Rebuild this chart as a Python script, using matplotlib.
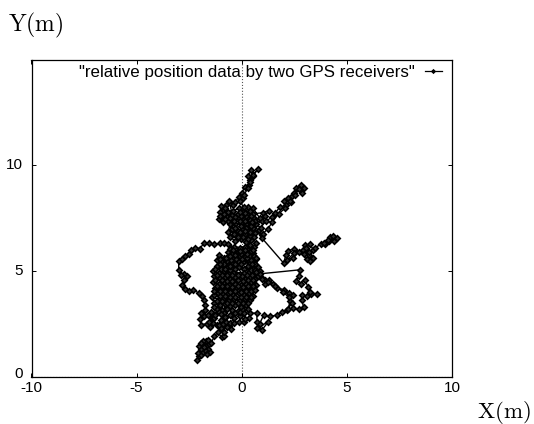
import matplotlib
matplotlib.use('Agg')
import matplotlib.pyplot as plt
from matplotlib.transforms import ScaledTranslation

plt.rcParams['font.family'] = ['Liberation Sans', 'DejaVu Sans']
plt.rcParams['mathtext.fontset'] = 'cm'
plt.rcParams['axes.unicode_minus'] = False

x_ticks = [-10, -5, 0, 5, 10]
y_ticks = [0, 5, 10, 15]
y_tick_labels = ['0', '5', '10', '']
series_label = '"relative position data by two GPS receivers"'

# relative position (x, y) in metres
tail = [(-2.15,0.8),(-2.05,0.95),(-2.1,1.1),(-1.95,1.0),(-1.85,1.15),(-1.65,1.05),(-1.5,1.15),(-1.6,1.3),(-1.75,1.25),
        (-1.95,1.3),(-2.05,1.45),(-1.9,1.55),(-1.7,1.45),(-1.55,1.55),(-1.7,1.7),(-1.85,1.7),(-1.95,1.6),(-1.8,1.4),
        (-1.6,1.75),(-1.45,1.6),(-1.3,1.9),(-1.15,2.1),(-0.95,1.85),(-0.85,1.9),(-0.85,2.1),(-1.0,2.3),(-1.2,2.45),
        (-1.35,2.55),(-1.5,2.35),(-1.65,2.5),(-1.95,2.45),(-1.97,2.7),(-1.8,2.85),(-1.95,3.0),(-1.75,3.15)]
left_loop = [(-1.75,3.4),(-1.8,3.6),(-1.9,3.8),(-2.05,3.95),(-2.3,4.1),(-2.5,4.05),(-2.7,4.15),(-2.85,4.35),(-2.75,4.55),
             (-2.6,4.75),(-2.75,4.85),(-2.9,4.8),(-3.0,5.05),(-3.0,5.45),(-2.85,5.55),(-2.7,5.7),(-2.5,5.8),(-2.4,6.0),
             (-2.2,6.1),(-2.0,6.05),(-1.8,6.3),(-1.55,6.3),(-1.3,6.25),(-1.05,6.3),(-0.85,6.3),(-0.65,6.25)]
lower_blob = [(-0.5,6.1),(-0.65,5.9),(-0.45,5.8),(-0.2,5.95),(0.05,5.85),(0.3,6.0),(0.55,5.85),(0.4,5.7),(0.15,5.65),
              (-0.1,5.7),(-0.35,5.6),(-0.6,5.7),(-0.85,5.6),(-1.1,5.75),(-1.2,5.5),(-0.95,5.4),(-0.7,5.45),(-0.45,5.35),
              (-0.2,5.45),(0.05,5.4),(0.3,5.5),(0.55,5.35),(0.7,5.55),(0.75,5.2),(0.5,5.15),(0.3,5.25),(0.1,5.1),
              (-0.15,5.2),(-0.45,5.1),(-0.7,5.2),(-0.95,5.15),(-1.2,5.25),(-1.35,5.0),(-1.1,4.9),(-0.85,5.0),(-0.6,4.9),
              (-0.35,4.95),(-0.1,4.85),(0.1,4.9),(0.35,4.95),(0.6,4.85),(0.85,5.0),(0.9,4.7),(0.65,4.6),(0.4,4.7),
              (0.15,4.6),(-0.05,4.65),(-0.3,4.7),(-0.55,4.6),(-0.8,4.7),(-1.05,4.65),(-1.3,4.75),(-1.35,4.45),(-1.1,4.4),
              (-0.85,4.45),(-0.6,4.35),(-0.3,4.4),(-0.05,4.35),(0.2,4.4),(0.45,4.45),(0.7,4.35),(0.5,4.15),(0.25,4.2),
              (0.0,4.1),(-0.25,4.2),(-0.5,4.1),(-0.75,4.2),(-1.0,4.15),(-1.25,4.2),(-1.15,3.95),(-0.9,3.9),(-0.65,3.95),
              (-0.4,3.85),(-0.15,3.95),(0.1,3.85),(0.35,3.95),(0.55,3.8),(0.4,3.6),(0.15,3.65),(-0.1,3.6),(-0.35,3.65),
              (-0.6,3.6),(-0.85,3.7),(-1.1,3.65),(-1.4,3.75),(-1.3,3.5),(-1.05,3.4),(-0.8,3.45),(-0.55,3.35),(-0.3,3.4),
              (-0.05,3.3),(0.2,3.4),(0.3,3.2),(0.05,3.15),(-0.2,3.1),(-0.45,3.15),(-0.7,3.2),(-0.95,3.15),(-1.2,3.2)]
lower_fill = [(-1.3,3.3),(-1.2,3.55),(-0.95,3.55),(-0.7,3.5),(-0.45,3.5),(-0.2,3.5),(0.05,3.5),(0.3,3.5),(0.45,3.75),
              (0.2,3.75),(-0.05,3.75),(-0.3,3.75),(-0.55,3.75),(-0.8,3.8),(-1.05,3.8),(-1.3,3.85),(-1.3,4.05),(-1.05,4.05),
              (-0.8,4.05),(-0.55,4.0),(-0.3,4.05),(-0.05,3.98),(0.2,4.05),(0.45,4.05),(0.65,4.1),(0.55,4.3),(0.3,4.28),
              (0.05,4.25),(-0.2,4.3),(-0.45,4.25),(-0.7,4.3),(-0.95,4.28),(-1.2,4.3),(-1.25,4.55),(-0.95,4.55),(-0.7,4.5),
              (-0.45,4.5),(-0.2,4.55),(0.05,4.5),(0.3,4.55),(0.55,4.55),(0.75,4.75),(0.5,4.8),(0.25,4.78),(0.0,4.75),
              (-0.2,4.78),(-0.45,4.8),(-0.7,4.8),(-0.95,4.78),(-1.2,4.82),(-1.25,5.1),(-1.0,5.08),(-0.8,5.1),(-0.55,5.05),
              (-0.3,5.08),(0.45,5.02),(0.65,5.05),(0.62,5.3),(0.4,5.35),(-0.05,5.3),(-0.3,5.3),(-0.55,5.25),(-0.85,5.3),
              (-1.05,5.3),(-1.05,5.55),(-0.75,5.6),(-0.5,5.52),(-0.25,5.58),(0.0,5.55),(0.25,5.6),(0.45,5.5),(0.6,5.7),
              (0.25,5.8),(-0.05,5.82),(-0.3,5.75),(-0.55,6.05),(-0.35,6.15),(-0.1,6.1),(0.15,6.15),(0.4,6.2),(0.6,6.15),
              (0.45,5.95),(0.15,6.0),(-0.1,5.95),(-0.4,5.98),(-0.55,5.7)]
south_west = [(-0.85,3.0),(-1.1,3.05),(-1.45,3.05),(-1.6,2.9),(-1.4,2.75),(-1.55,2.6),(-1.3,2.75),(-1.25,2.9),(-1.0,2.95),(-0.8,2.8),
              (-1.0,2.65),(-1.1,2.45),(-0.9,2.5),(-0.75,2.6),(-0.55,2.9),(-0.35,2.75),(-0.55,2.55),(-0.7,2.35),(-0.5,2.25),(-0.35,2.55),(-0.15,2.6),
              (0.1,2.6),(0.35,2.75),(0.15,2.7),(-0.1,2.85),(-0.3,3.0),(-0.1,3.05),(0.1,3.0),(0.4,3.0)]
south_loop = [(0.72,3.0),(0.72,2.6),(0.96,2.2),(1.27,2.6),(0.72,2.28),(0.85,2.5),(1.04,2.9),(1.35,2.85),(1.67,2.9),
              (1.9,3.05),(2.15,3.15),(2.46,3.23),(2.7,3.2),(2.94,3.3),(2.86,3.6),(2.86,3.86),(3.1,3.8),(3.3,3.9),(3.57,3.9),
              (3.25,4.0),(3.15,4.25),(3.0,4.57),(2.8,4.4),(2.6,4.5),(2.7,4.75),(2.78,5.05)]
east_return = [(0.88,4.86),(1.1,4.55),(1.1,4.4),(1.3,4.55),(1.5,4.4),(1.7,4.2),(2.0,4.1),(2.25,3.95),(2.46,3.86),(2.3,3.55),
               (2.2,3.2),(2.4,3.5),(2.25,3.75),(1.95,4.0),(1.6,4.3),(1.25,4.45),(0.95,4.6),(0.7,4.95),(0.5,5.3),
               (0.7,5.6),(0.55,6.0),(0.7,6.3)]
upper_blob = [(0.45,6.45),(0.2,6.35),(-0.05,6.5),(-0.3,6.4),(-0.55,6.6),(-0.35,6.75),(-0.1,6.65),(0.15,6.75),(0.4,6.65),
              (0.65,6.8),(0.95,6.7),(0.8,6.95),(0.55,7.05),(0.3,6.95),(0.05,7.0),(-0.2,6.9),(-0.45,7.0),(-0.65,6.85),
              (-0.55,7.2),(-0.3,7.2),(-0.05,7.25),(0.2,7.2),(0.45,7.3),(0.7,7.2),(0.95,7.35),(0.6,7.5),(0.35,7.5),
              (0.1,7.45),(-0.15,7.5),(-0.4,7.4),(-0.65,7.35),(-0.9,7.3),(-1.1,7.45),(-0.95,7.6),(-0.7,7.55),(-0.45,7.65),
              (-0.2,7.7),(0.05,7.65),(0.3,7.75),(0.55,7.7),(1.0,7.75),(1.3,7.85),(1.1,7.6),(0.85,7.5),(0.55,7.95),
              (0.3,8.0),(0.1,7.85),(-0.15,7.95),(-0.4,7.85),(-0.65,7.8),(-0.9,7.85),(-1.0,8.05),(-0.75,8.1)]
upper_fill = [(-0.8,7.95),(-1.05,7.8),(-0.85,7.7),(-1.05,7.6),(-0.8,7.45),(-0.55,7.5),(-0.3,7.55),(-0.05,7.6),(0.2,7.6),
              (0.45,7.6),(0.4,7.85),(0.15,7.75),(-0.1,7.8),(-0.35,7.35),(-0.1,7.35),(0.15,7.35),(0.4,7.4),(0.65,7.35),
              (0.45,7.1),(0.2,7.05),(-0.05,7.1),(-0.3,7.05),(-0.1,6.85),(0.15,6.9),(0.4,6.85),(0.6,6.6),(0.3,6.5),(0.05,6.6),(-0.2,6.6)]
north_spur = [(-0.6,8.3),(-0.4,8.1),(-0.3,8.25),(-0.15,8.5),(0.05,8.45),(0.0,8.7),(0.15,8.95),(0.35,9.05),(0.4,9.3),
              (0.3,9.5),(0.45,9.75),(0.55,9.5),(0.75,9.8),(0.55,9.55),(0.4,9.2),(0.3,8.9),(0.1,8.6),(-0.1,8.3),(0.1,8.0)]
ne_arm = [(0.5,7.3),(0.9,7.05),(1.15,7.35),(1.45,7.55),(1.6,7.75),(1.8,8.0),(2.1,8.1),(2.0,8.3),(2.2,8.45),(2.4,8.55),(2.35,8.25),
          (2.5,8.7),(2.6,8.9),(2.8,9.05),(2.95,8.9),(2.85,8.7),(2.7,8.85),(2.55,8.6),(2.3,8.3),(2.05,7.95),(1.75,7.7),
          (1.45,7.3),(1.25,7.0),(1.0,6.75),(0.96,6.55)]
east_arm = [(1.99,5.37),(2.1,5.75),(2.2,5.95),(2.5,6.05),(2.7,5.9),(2.45,5.6),(2.15,5.5),(2.5,5.85),(2.9,6.0),(3.0,6.2),
            (2.95,5.8),(3.1,5.55),(3.25,5.45),(3.4,5.6),(3.2,5.75),(3.05,6.1),(3.25,6.25),(3.4,6.0),(3.2,5.9),(3.5,6.1),(3.75,6.25),
            (3.95,6.25),(4.15,6.4),(4.2,6.6),(4.4,6.4),(4.55,6.55),(4.35,6.65),(4.1,6.45),(3.9,6.3)]

track = (tail + left_loop + lower_blob + lower_fill + south_west + south_loop + east_return
         + upper_blob + upper_fill + north_spur + ne_arm + east_arm)
x_pos = [p[0] for p in track]
y_pos = [p[1] for p in track]

fig = plt.figure(figsize=(5.34, 4.24), dpi=100)
ax = fig.add_axes([31.5/534, 1 - 376.5/424, 420.5/534, 317/424])

ax.plot(x_pos, y_pos, color='black', lw=1.0, marker='D', ms=2.8, mfc='#333333', mew=1.2, label=series_label)
ax.axvline(0, color='#555555', lw=0.8, ls=':', zorder=0)
ax.axhline(0, color='#555555', lw=0.8, ls=':', zorder=0)

ax.set_xlim(-10, 10)
ax.set_ylim(0, 15)
ax.set_xticks(x_ticks)
ax.set_yticks(y_ticks)
ax.set_yticklabels(y_tick_labels)
ax.tick_params(axis='both', direction='in', length=3, width=0.7, labelsize=11, top=True, right=True)
ax.tick_params(axis='x', pad=3)
ax.tick_params(axis='y', pad=6)
for lab in ax.get_yticklabels():
    lab.set_verticalalignment('center')
zero_lab = ax.get_yticklabels()[0]
zero_lab.set_transform(zero_lab.get_transform() + ScaledTranslation(0, 2/72, fig.dpi_scale_trans))
for s in ax.spines.values():
    s.set_linewidth(0.9)

leg = ax.legend(loc='upper right', frameon=False, markerfirst=False, fontsize=12.2, handlelength=1.0,
                borderaxespad=0, bbox_to_anchor=(0.976, 0.982), handletextpad=0.6, borderpad=0)
for h in leg.get_lines():
    h.set_markersize(1.5)
    h.set_linewidth(0.9)

fig.text(8/534, 1 - 25/424, r'$\mathrm{Y(m)}$', fontsize=17, va='center')
fig.text(477/534, 1 - 412/424, r'$\mathrm{X(m)}$', fontsize=16.5, va='center')

fig.savefig('out.png', dpi=100)
